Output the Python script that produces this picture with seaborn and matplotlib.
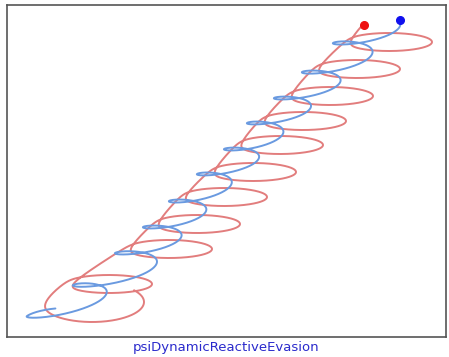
import numpy as np
import pandas as pd
import matplotlib
matplotlib.use("Agg")
import matplotlib.pyplot as plt
import seaborn as sns

# red track: centre and half-size of each flat loop
# (pixel units, y pointing down); the last centre only sets where the tail heads
red_cx = [92, 109, 169, 197, 224, 253, 280, 303, 330, 357, 389, 416]
red_cy = [302, 284, 249, 224, 197, 172, 145, 121, 96, 69, 42, 15]
red_rx = [52, 43, 43, 43, 43, 43, 43, 43, 43, 43, 43, 43]
red_ry = [20, 9, 9, 9, 9, 9, 9, 9, 9, 9, 9, 9]
red_span = (0.40, 11.2)       # loop turns drawn (trimmed at the end marker)

# blue track: the left cusp of each arch and how far the arch reaches right
blue_cusp_x = [27, 73, 115, 143, 169, 197, 224, 247, 274, 302, 333, 362]
blue_cusp_y = [316, 285, 253, 227, 201, 174, 149, 123, 98, 72, 43, 16]
blue_reach = [25, 29, 25, 24, 23, 23, 23, 24, 25, 26, 25, 25]
blue_span = (-0.2, 10.9)

dot_red = (364, 25)
dot_blue = (400, 20)


def trim(df, dot, after):
    # stop the track where it meets its end marker
    tail = df.index[after:]
    d = (df.loc[tail, "x"] - dot[0]) ** 2 + (df.loc[tail, "y"] - dot[1]) ** 2
    return df.loc[: d.idxmin()]


def red_track(n=5000, sig=0.045):
    u = np.linspace(*red_span, n)
    k = np.floor(u + 0.5)
    v = k + 0.5 * np.tanh((u - k) / sig) / np.tanh(0.5 / sig)
    idx = np.arange(len(red_cx))
    th = 2 * np.pi * u + np.pi
    a = np.interp(v - 0.5, idx, red_rx)
    b = np.interp(v - 0.5, idx, red_ry)
    x = np.interp(v - 0.5, idx, red_cx) + a * np.cos(th)
    y = np.interp(v - 0.5, idx, red_cy) + b * np.sin(th)
    df = pd.DataFrame({"x": x, "y": y})
    return trim(df, dot_red, int(n * 0.97))


def blue_track(n=5000, loop=1.6):
    u = np.linspace(*blue_span, n)
    idx = np.arange(len(blue_cusp_x))
    px, py = np.array(blue_cusp_x, float), np.array(blue_cusp_y, float)
    wx = np.append(np.diff(px), np.diff(px)[-1]) * loop / (2 * np.pi)
    wy = np.append(np.diff(py), np.diff(py)[-1]) * loop / (2 * np.pi)
    seg = np.clip(np.floor(u), 0, len(px) - 1).astype(int)
    th = 2 * np.pi * u + np.pi
    reach = np.array(blue_reach, float)[seg]
    x = np.interp(u, idx, px) + reach * (1 + np.cos(th)) + wx[seg] * np.sin(th)
    y = np.interp(u, idx, py) + wy[seg] * np.sin(th)
    df = pd.DataFrame({"x": x, "y": y})
    return trim(df, dot_blue, int(n * 0.95))


red = red_track()
blue = blue_track()

sns.set_style("white")
fig = plt.figure(figsize=(4.49, 3.57), dpi=100)
ax = fig.add_axes([7 / 449, 20 / 357, 439 / 449, 332 / 357])

sns.lineplot(data=red, x="x", y="y", sort=False, estimator=None, color="#e27d7d", lw=1.4, ax=ax)
sns.lineplot(data=blue, x="x", y="y", sort=False, estimator=None, color="#6a9ae0", lw=1.4, ax=ax)
ax.plot(*dot_red, "o", color="#ee1111", ms=5.5)
ax.plot(*dot_blue, "o", color="#1010ee", ms=5.5)

ax.set_xlim(7, 446)
ax.set_ylim(337, 5)
ax.set_xticks([])
ax.set_yticks([])
for s in ax.spines.values():
    s.set_color("#555555")
    s.set_linewidth(1.2)

ax.set_xlabel("psiDynamicReactiveEvasion", color="#2a2acc", fontsize=9.5, labelpad=3)
ax.set_ylabel("thetaReactiveGain", color="#dd3333", fontsize=9.5)
ax.yaxis.set_label_coords(-0.028, 0.5)

fig.savefig("out.png", dpi=100)
